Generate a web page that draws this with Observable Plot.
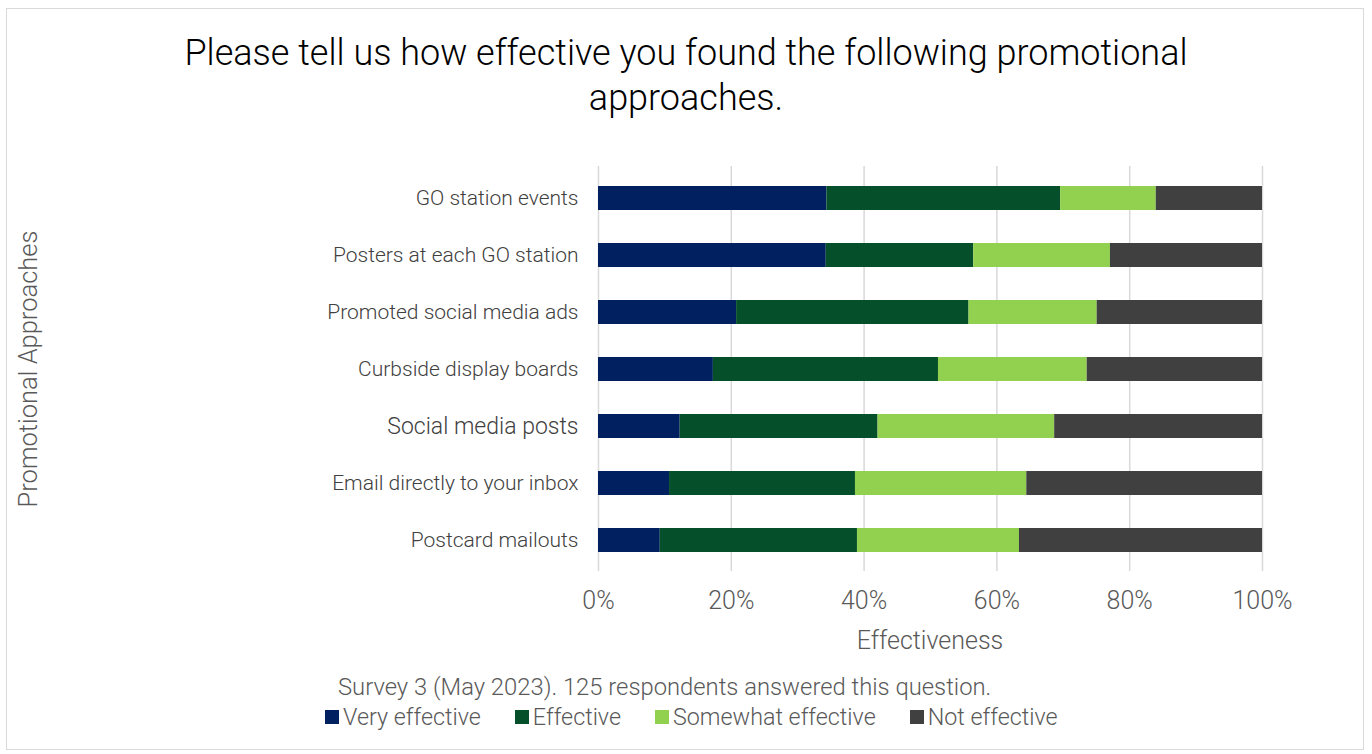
<!DOCTYPE html>
<html>
<head>
<meta charset="utf-8">
<script src="https://cdn.jsdelivr.net/npm/d3@7"></script>
<script src="https://cdn.jsdelivr.net/npm/@observablehq/plot@0.6"></script>
<style>
  html, body { margin: 0; padding: 0; background: #fff; }
  body { font-family: Roboto, "Noto Sans", sans-serif; font-weight: 300; }
  #wrap { position: relative; width: 1372px; height: 754px; overflow: hidden; }
  #frame { position: absolute; left: 6px; top: 8px; width: 1358px; height: 742px; border: 1.5px solid #d9d9d9; box-sizing: border-box; }
  #title { position: absolute; left: 0; top: 31px; width: 1372px; text-align: center; font-size: 36px; line-height: 45px; color: #000; font-weight: 300; }
  #chart { position: absolute; left: 0; top: 0; }
  #xlabel { position: absolute; left: 598px; width: 664px; top: 626px; text-align: center; font-size: 25px; color: #595959; }
  #ylabel { position: absolute; left: 28px; top: 369px; transform: translate(-50%, -50%) rotate(-90deg); white-space: nowrap; font-size: 25.5px; color: #595959; }
  #caption { position: absolute; left: 338px; top: 673px; font-size: 23.8px; color: #595959; white-space: nowrap; }
  #legend { position: absolute; left: 325px; top: 703px; font-size: 23.3px; color: #595959; white-space: nowrap; display: flex; }
  .item { display: flex; align-items: center; margin-right: 34px; }
  .sw { width: 14px; height: 14px; margin-right: 4px; display: inline-block; }
</style>
</head>
<body>
<div id="wrap">
  <div id="frame"></div>
  <div id="title">Please tell us how effective you found the following promotional<br>approaches.</div>
  <div id="chart"></div>
  <div id="xlabel">Effectiveness</div>
  <div id="ylabel">Promotional Approaches</div>
  <div id="caption">Survey 3 (May 2023). 125 respondents answered this question.</div>
  <div id="legend"></div>
</div>
<script>
const approaches = [
  "GO station events",
  "Posters at each GO station",
  "Promoted social media ads",
  "Curbside display boards",
  "Social media posts",
  "Email directly to your inbox",
  "Postcard mailouts"
];
const levels = ["Very effective", "Effective", "Somewhat effective", "Not effective"];
const colors = ["#002060", "#05502B", "#92D050", "#404040"];
const veryEffective     = [34.4, 34.3, 20.8, 17.3, 12.3, 10.7,  9.3];
const effective         = [35.2, 22.2, 35.0, 33.9, 29.8, 28.0, 29.7];
const somewhatEffective = [14.4, 20.6, 19.3, 22.4, 26.6, 25.8, 24.4];
const notEffective      = [16.0, 22.9, 24.9, 26.4, 31.3, 35.5, 36.6];
const xTicks = [0, 20, 40, 60, 80, 100];

const series = [veryEffective, effective, somewhatEffective, notEffective];
const data = [];
approaches.forEach((a, i) => {
  levels.forEach((lv, j) => data.push({approach: a, level: lv, value: series[j][i]}));
});

const plot = Plot.plot({
  width: 1372,
  height: 754,
  marginLeft: 598,
  marginRight: 110,
  marginTop: 166,
  marginBottom: 183,
  style: {fontFamily: "Roboto, 'Noto Sans', sans-serif", fontWeight: 300, background: "transparent"},
  x: {domain: [0, 100], ticks: xTicks},
  y: {domain: approaches, paddingInner: 0.585, paddingOuter: 0.29},
  color: {domain: levels, range: colors},
  marks: [
    Plot.gridX(xTicks, {stroke: "#d9d9d9", strokeOpacity: 1, strokeWidth: 1.5}),
    Plot.barX(data, {x: "value", y: "approach", fill: "level", order: levels}),
    Plot.axisX({ticks: xTicks, tickSize: 0, tickPadding: 20, tickFormat: d => d + "%", fontSize: 25, fill: "#595959", label: null}),
    Plot.axisY({tickSize: 0, tickPadding: 20, fontSize: d => d === "Social media posts" ? 23 : 21, fill: "#404040", label: null})
  ]
});
document.getElementById("chart").appendChild(plot);

const legend = document.getElementById("legend");
levels.forEach((lv, j) => {
  const it = document.createElement("div");
  it.className = "item";
  it.innerHTML = `<span class="sw" style="background:${colors[j]}"></span><span>${lv}</span>`;
  legend.appendChild(it);
});
</script>
</body>
</html>
